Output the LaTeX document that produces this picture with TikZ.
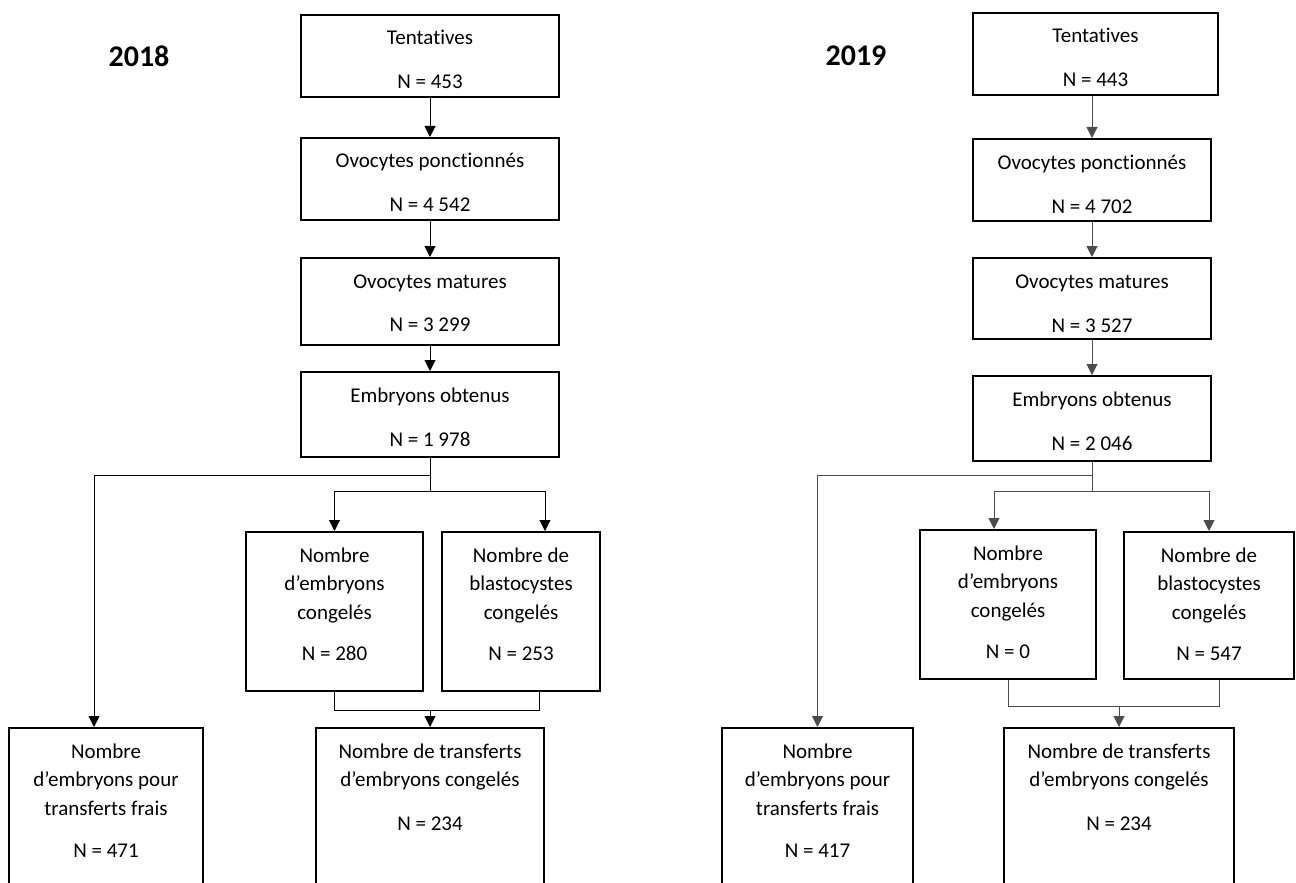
\documentclass[tikz,border=0pt]{standalone}
\usepackage{fontspec}
\setmainfont[Ligatures=NoCommon]{Carlito}
\usetikzlibrary{arrows.meta,positioning,calc}

\newcommand{\boxtxt}[3]{\parbox[c][#2][t]{#1}{\centering\fontsize{10.5}{14.25}\selectfont\rule{0pt}{15pt}#3}}

\tikzset{
  flowbox/.style={draw, line width=1pt, inner sep=0pt, anchor=north},
  conn/.style={line width=0.5pt, -{Triangle[width=5.5pt,length=5.5pt]}},
  link/.style={line width=0.5pt},
  yearlbl/.style={font=\fontsize{15}{18}\selectfont\bfseries}
}

\begin{document}
\begin{tikzpicture}[x=0.5pt,y=-0.5pt]
    \useasboundingbox (0,0) rectangle (1296,883);
    \clip (0,0) rectangle (1296,883);
    % Years
    \node[yearlbl] (y18) at (139,56) {2018};
    \node[yearlbl] (y19) at (856,56) {2019};
    %
    % 2018 chain
    \node[flowbox] (tent18) at (430,14) {\boxtxt{129pt}{41pt}{Tentatives\\[7.75pt]N = 453}};
    \node[flowbox] (oc18) at (430,137) {\boxtxt{129pt}{41pt}{Ovocytes ponctionnés\\[7.75pt]N = 4~542}};
    \node[flowbox] (om18) at (430,257) {\boxtxt{129pt}{43.5pt}{Ovocytes matures\\[7.75pt]N = 3~299}};
    \node[flowbox] (em18) at (430,371) {\boxtxt{129pt}{42.5pt}{Embryons obtenus\\[7.75pt]N = 1~978}};
    \node[flowbox] (ec18) at (334.5,531) {\boxtxt{88.5pt}{79.5pt}{Nombre\\d’embryons\\congelés\\[6.25pt]N = 280}};
    \node[flowbox] (bc18) at (521,531) {\boxtxt{79pt}{79.5pt}{Nombre de\\blastocystes\\congelés\\[6.25pt]N = 253}};
    \node[flowbox] (fr18) at (106,727) {\boxtxt{97pt}{110pt}{Nombre\\d’embryons pour\\transferts frais\\[6.75pt]N = 471}};
    \node[flowbox] (tr18) at (430,727) {\boxtxt{114pt}{110pt}{Nombre de transferts\\d’embryons congelés\\[7.75pt]N = 234}};
    %
    % 2019 chain
    \node[flowbox] (tent19) at (1095.5,12) {\boxtxt{122.5pt}{41pt}{Tentatives\\[7.75pt]N = 443}};
    \node[flowbox] (oc19) at (1092,138) {\boxtxt{119pt}{41pt}{Ovocytes ponctionnés\\[7.75pt]N = 4~702}};
    \node[flowbox] (om19) at (1092,257) {\boxtxt{119pt}{40.5pt}{Ovocytes matures\\[7.75pt]N = 3~527}};
    \node[flowbox] (em19) at (1092,375) {\boxtxt{119pt}{42.5pt}{Embryons obtenus\\[7.75pt]N = 2~046}};
    \node[flowbox] (ec19) at (1008,529) {\boxtxt{88pt}{74.5pt}{Nombre\\d’embryons\\congelés\\[6.25pt]N = 0}};
    \node[flowbox] (bc19) at (1209,531) {\boxtxt{85pt}{73.5pt}{Nombre de\\blastocystes\\congelés\\[6.25pt]N = 547}};
    \node[flowbox] (fr19) at (817.5,727) {\boxtxt{95.5pt}{110pt}{Nombre\\d’embryons pour\\transferts frais\\[6.75pt]N = 417}};
    \node[flowbox] (tr19) at (1119,727) {\boxtxt{115pt}{110pt}{Nombre de transferts\\d’embryons congelés\\[7.75pt]N = 234}};
    %
    % 2018 arrows
    \draw[conn] (tent18.south) -- (oc18.north);
    \draw[conn] (oc18.south) -- (om18.north);
    \draw[conn] (om18.south) -- (em18.north);
    \draw[link] (em18.south) -- ++(0,33) coordinate (k18);
    \coordinate (h18) at ($(em18.south)+(0,17)$);
    \draw[conn] (h18) -| ([xshift=-6pt]fr18.north);
    \draw[conn] (k18) -| (ec18.north);
    \draw[conn] (k18) -| ([xshift=12pt]bc18.north);
    \coordinate (j18) at ($(tr18.north)+(0,-17)$);
    \coordinate (bb18) at ([xshift=9pt]bc18.south);
    \draw[link] (ec18.south) |- (bb18 |- j18) -- (bb18);
    \draw[conn] (j18) -- (tr18.north);
    %
    % 2019 arrows
    \begin{scope}[draw=black!70]
    \draw[conn] (tent19.south -| oc19.north) -- (oc19.north);
    \draw[conn] (oc19.south) -- (om19.north);
    \draw[conn] (om19.south) -- (em19.north);
    \draw[link] (em19.south) -- ++(0,29) coordinate (k19);
    \coordinate (h19) at ($(em19.south)+(0,13)$);
    \draw[conn] (h19) -| (fr19.north);
    \draw[conn] (k19) -| ([xshift=-7pt]ec19.north);
    \draw[conn] (k19) -| (bc19.north);
    \coordinate (j19) at ($(tr19.north)+(0,-21)$);
    \coordinate (bb19) at ([xshift=5pt]bc19.south);
    \draw[link] (ec19.south) |- (bb19 |- j19) -- (bb19);
    \draw[conn] (j19) -- (tr19.north);
    \end{scope}
\end{tikzpicture}
\end{document}
